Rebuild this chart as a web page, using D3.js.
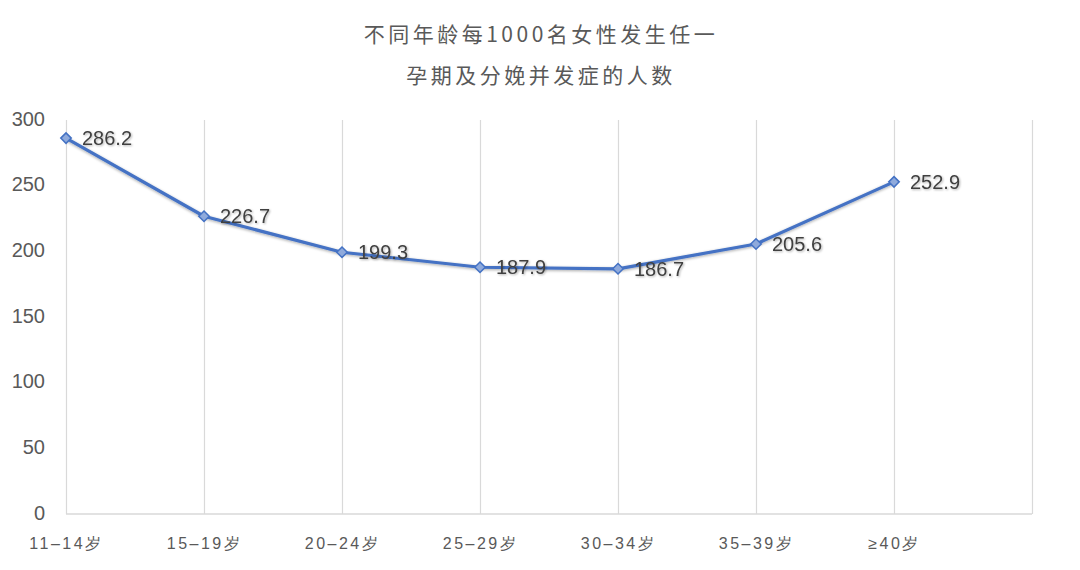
<!DOCTYPE html>
<html>
<head>
<meta charset="utf-8">
<script src="https://cdn.jsdelivr.net/npm/d3@7"></script>
<style>
  body { margin: 0; background: #fff; }
  svg { font-family: "Noto Sans CJK SC", "Liberation Sans", sans-serif; }
  .chart_label { fill: #595959; }
</style>
</head>
<body>
<svg id="chart" width="1080" height="570"></svg>
<script>
var categories = ["11–14岁", "15–19岁", "20–24岁", "25–29岁", "30–34岁", "35–39岁", "≥40岁"];
var values = [286.2, 226.7, 199.3, 187.9, 186.7, 205.6, 252.9];
var yTicks = [0, 50, 100, 150, 200, 250, 300];
var titleLines = ["不同年龄每1000名女性发生任一", "孕期及分娩并发症的人数"];

var svg = d3.select("#chart"),
    margin = {top: 120, right: 48, bottom: 56, left: 66},
    width = 1080 - margin.left - margin.right,
    height = 570 - margin.top - margin.bottom,
    g = svg.append("g").attr("transform", "translate(" + margin.left + "," + margin.top + ")");

var data = categories.map(function(c, i) { return {cat: c, i: i, value: values[i]} });

// one extra slot on the right, the last gridline is the plot border
var x = d3.scaleLinear().domain([0, categories.length]).range([0, width]);
var y = d3.scaleLinear().domain([0, 300]).range([height, 0]);

var defs = svg.append("defs");
var glow = defs.append("filter").attr("id", "glow")
  .attr("x", "-10%").attr("y", "-10%").attr("width", "120%").attr("height", "120%");
glow.append("feGaussianBlur").attr("in", "SourceAlpha").attr("stdDeviation", 1.5).attr("result", "b");
glow.append("feOffset").attr("in", "b").attr("dx", 0).attr("dy", 1).attr("result", "o");
glow.append("feComponentTransfer").attr("in", "o").attr("result", "s")
  .append("feFuncA").attr("type", "linear").attr("slope", 0.35);
var m = glow.append("feMerge");
m.append("feMergeNode").attr("in", "s");
m.append("feMergeNode").attr("in", "SourceGraphic");

var tshadow = defs.append("filter").attr("id", "tshadow");
tshadow.append("feDropShadow").attr("dx", 1).attr("dy", 1).attr("stdDeviation", 0.8)
  .attr("flood-color", "#000").attr("flood-opacity", 0.3);

// title
svg.append("g").selectAll("text")
  .data(titleLines)
  .enter().append("text")
    .attr("x", 541)
    .attr("y", function(d, i) { return 42 + i * 41 })
    .attr("text-anchor", "middle")
    .attr("font-size", 21)
    .attr("letter-spacing", 3.5)
    .attr("fill", "#595959")
    .text(function(d) { return d });

// vertical gridlines
g.append("g")
  .attr("class", "grid")
  .call(d3.axisBottom(x).ticks(categories.length).tickSize(height).tickFormat(""))
  .call(function(a) {
    a.select(".domain").remove();
    a.selectAll(".tick line").attr("stroke", "#d9d9d9").attr("stroke-width", 1.2);
  });

// x axis
g.append("g")
  .attr("transform", "translate(0," + height + ")")
  .call(d3.axisBottom(x).tickValues(d3.range(categories.length)).tickSize(0)
    .tickFormat(function(d) { return categories[d] }))
  .call(function(a) {
    a.select(".domain").attr("stroke", "#d9d9d9").attr("stroke-width", 1.5)
      .attr("d", "M0,0H" + width);
    a.selectAll(".tick text")
      .attr("class", "chart_label")
      .attr("font-size", 16)
      .attr("letter-spacing", 2.5)
      .attr("dy", 0)
      .attr("y", 35);
  });

// y axis
g.append("g")
  .call(d3.axisLeft(y).tickValues(yTicks).tickSize(0))
  .call(function(a) {
    a.select(".domain").remove();
    a.selectAll(".tick text")
      .attr("class", "chart_label")
      .attr("font-family", "Liberation Sans, sans-serif")
      .attr("font-size", 20)
      .attr("x", -21)
      .attr("dy", "0.25em");
  });

var line = d3.line()
  .x(function(d) { return x(d.i) })
  .y(function(d) { return y(d.value) });

g.append("path")
  .attr("d", line(data))
  .attr("fill", "none")
  .attr("stroke", "#4472c4")
  .attr("stroke-width", 3.2)
  .attr("stroke-linejoin", "round")
  .attr("filter", "url(#glow)");

g.selectAll(".dot")
  .data(data)
  .enter().append("path")
    .attr("class", "dot")
    .attr("d", d3.symbol().type(d3.symbolDiamond2).size(70))
    .attr("transform", function(d) { return "translate(" + x(d.i) + "," + y(d.value) + ")" })
    .attr("fill", "#8faadc")
    .attr("stroke", "#4472c4")
    .attr("stroke-width", 1.5);

g.selectAll(".val")
  .data(data)
  .enter().append("text")
    .attr("class", "val")
    .attr("x", function(d) { return x(d.i) + 16 })
    .attr("y", function(d) { return y(d.value) })
    .attr("dy", "0.36em")
    .attr("font-family", "Liberation Sans, sans-serif")
    .attr("font-size", 20)
    .attr("fill", "#404040")
    .attr("filter", "url(#tshadow)")
    .text(function(d) { return d.value.toFixed(1) });
</script>
</body>
</html>
